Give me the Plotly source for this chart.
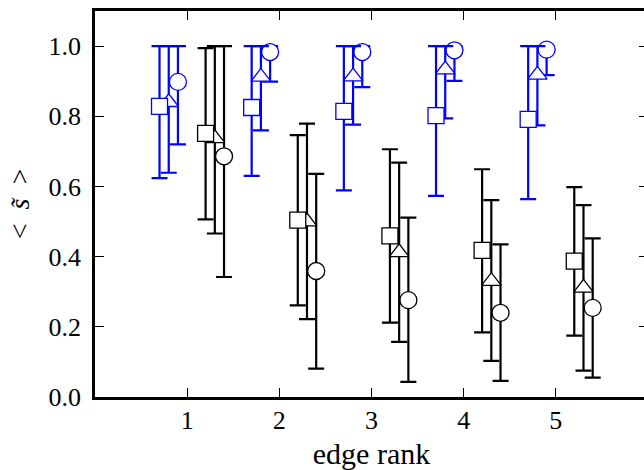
import plotly.graph_objects as go

ranks = [1, 2, 3, 4, 5]
tick_labels = ["1", "2", "3", "4", "5"]

blue_sq_mean = [0.828, 0.825, 0.814, 0.802, 0.791]
blue_sq_lo = [0.624, 0.630, 0.589, 0.573, 0.564]
blue_sq_hi = [1.0, 1.0, 1.0, 1.0, 1.0]

blue_tri_mean = [0.840, 0.912, 0.913, 0.933, 0.918]
blue_tri_lo = [0.639, 0.760, 0.776, 0.794, 0.774]
blue_tri_hi = [1.0, 1.0, 1.0, 1.0, 1.0]

blue_circ_mean = [0.898, 0.983, 0.983, 0.988, 0.990]
blue_circ_lo = [0.720, 0.899, 0.883, 0.901, 0.917]
blue_circ_hi = [1.0, 1.0, 1.0, 1.0, 1.0]

black_sq_mean = [0.751, 0.504, 0.459, 0.418, 0.387]
black_sq_lo = [0.506, 0.261, 0.212, 0.184, 0.175]
black_sq_hi = [0.994, 0.746, 0.706, 0.649, 0.598]

black_tri_mean = [0.737, 0.500, 0.412, 0.330, 0.311]
black_tri_lo = [0.466, 0.222, 0.157, 0.103, 0.075]
black_tri_hi = [1.0, 0.779, 0.668, 0.561, 0.547]

black_circ_mean = [0.686, 0.359, 0.276, 0.240, 0.254]
black_circ_lo = [0.342, 0.081, 0.043, 0.046, 0.055]
black_circ_hi = [1.0, 0.636, 0.511, 0.435, 0.452]

FONT = "Liberation Serif"
BLUE = "#0000ff"
BLACK = "#000000"

fig = go.Figure()


def add_series(offset, mean, lo, hi, color, symbol, size):
    xs = [r + offset for r in ranks]
    fig.add_trace(go.Scatter(
        x=xs, y=mean, mode="markers", showlegend=False,
        marker=dict(symbol=symbol, size=size, color="white",
                    line=dict(color=color, width=1.3)),
        error_y=dict(type="data", symmetric=False,
                     array=[h - m for h, m in zip(hi, mean)],
                     arrayminus=[m - l for m, l in zip(mean, lo)],
                     color=color, thickness=2.2, width=8),
    ))


# draw circles first, then triangles, then squares on top
add_series(-0.1, blue_circ_mean, blue_circ_lo, blue_circ_hi, BLUE, "circle", 17)
add_series(-0.2, blue_tri_mean, blue_tri_lo, blue_tri_hi, BLUE, "triangle-up", 17)
add_series(-0.3, blue_sq_mean, blue_sq_lo, blue_sq_hi, BLUE, "square", 16)
add_series(0.4, black_circ_mean, black_circ_lo, black_circ_hi, BLACK, "circle", 17)
add_series(0.3, black_tri_mean, black_tri_lo, black_tri_hi, BLACK, "triangle-up", 17)
add_series(0.2, black_sq_mean, black_sq_lo, black_sq_hi, BLACK, "square", 16)

fig.update_layout(
    width=648, height=470,
    margin=dict(l=95, r=0, t=11, b=73),
    paper_bgcolor="white", plot_bgcolor="white",
    font=dict(family=FONT, size=26, color="black"),
    xaxis=dict(
        range=[0, 6], tickvals=ranks, ticktext=tick_labels,
        ticks="inside", ticklen=9, tickwidth=1.2, tickcolor="black",
        showline=True, linecolor="black", linewidth=2.6, mirror="ticks",
        showgrid=False, zeroline=False, automargin=False,
        ticklabelstandoff=-2,
        title=dict(text="edge rank", font=dict(family=FONT, size=30), standoff=26),
    ),
    yaxis=dict(
        range=[0, 1.1], tickvals=[0.0, 0.2, 0.4, 0.6, 0.8, 1.0],
        ticktext=["0.0", "0.2", "0.4", "0.6", "0.8", "1.0"],
        ticks="inside", ticklen=9, tickwidth=1.2, tickcolor="black",
        showline=True, linecolor="black", linewidth=2.6, mirror="ticks",
        showgrid=False, zeroline=False, automargin=False,
        ticklabelstandoff=6,
        title=dict(text="&lt;\u2002<i>s̃</i>\u2002&gt;", font=dict(family=FONT, size=28), standoff=11),
    ),
)

fig.write_html(
    "out.html",
    config={"displayModeBar": False},
    post_script="document.body.style.margin='0';"
                "document.body.style.overflow='hidden';"
                "document.documentElement.style.overflow='hidden';",
)
